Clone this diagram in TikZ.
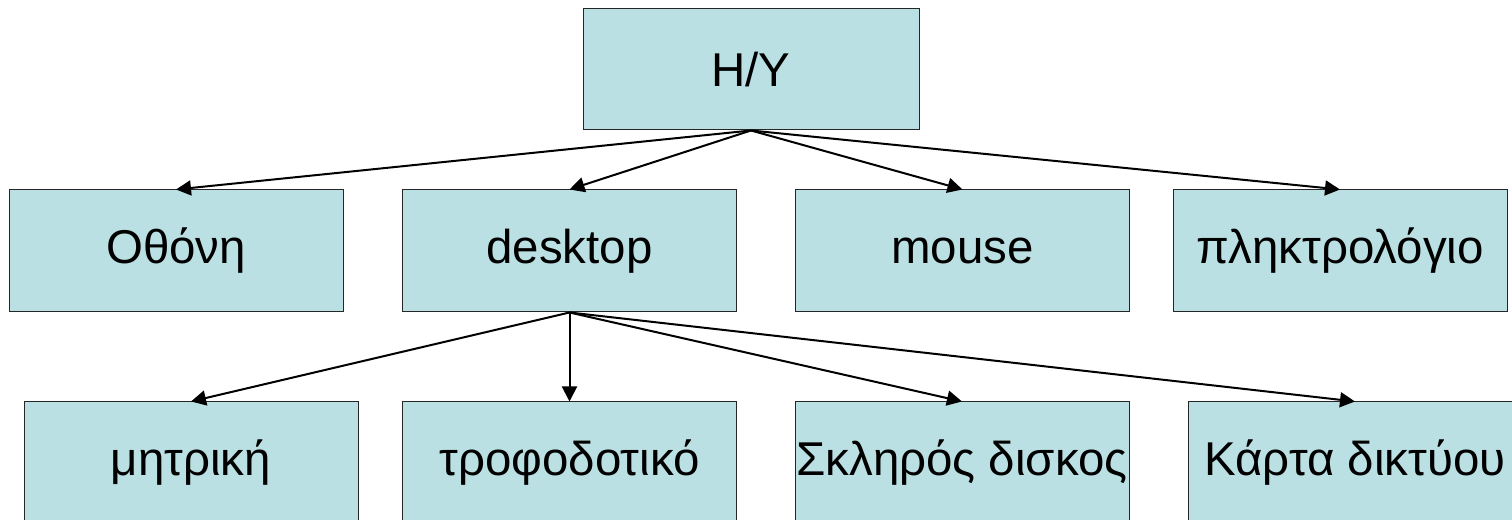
\documentclass[tikz,border=0pt]{standalone}
\usepackage{fontspec}
\setmainfont{Liberation Sans}
\usetikzlibrary{arrows.meta}
\tikzset{>={Triangle[length=3mm,width=3mm]}}
\definecolor{boxcyan}{RGB}{187,224,227}
\tikzstyle{itembox}=[draw=black!85,fill=boxcyan,line width=0.2mm,minimum width=6.68cm,minimum height=2.44cm,inner sep=0pt,font=\fontsize{27}{32}\selectfont]
\tikzstyle{linkline}=[draw=black,line width=0.4mm]

\begin{document}
\begin{tikzpicture}
  \useasboundingbox (0,0) rectangle (30.24,10.4);
  % top
  \node[itembox,minimum width=6.72cm,minimum height=2.42cm] (hy) at (15.02,9.01) {H/Y};
  % second row
  \node[itembox] (othoni) at (3.52,5.38) {Οθόνη};
  \node[itembox] (desktop) at (11.39,5.38) {desktop};
  \node[itembox] (mouse) at (19.25,5.38) {mouse};
  \node[itembox] (keyboard) at (26.8,5.38) {πληκτρολόγιο};
  % third row
  \node[itembox] (motherboard) at (3.82,1.14) {μητρική};
  \node[itembox] (psu) at (11.39,1.14) {τροφοδοτικό};
  \node[itembox] (disk) at (19.24,1.14) {Σκληρός δισκος};
  \node[itembox] (netcard) at (27.1,1.14) {Κάρτα δικτύου};

  \draw[linkline,->] (hy.south) -- (othoni.north);
  \draw[linkline,->] (hy.south) -- (desktop.north);
  \draw[linkline,->] (hy.south) -- (mouse.north);
  \draw[linkline,->] (hy.south) -- (keyboard.north);

  \draw[linkline,->] (desktop.south) -- (motherboard.north);
  \draw[linkline,->] (desktop.south) -- (psu.north);
  \draw[linkline,->] (desktop.south) -- (disk.north);
  \draw[linkline,->] (desktop.south) -- (netcard.north);
\end{tikzpicture}
\end{document}
